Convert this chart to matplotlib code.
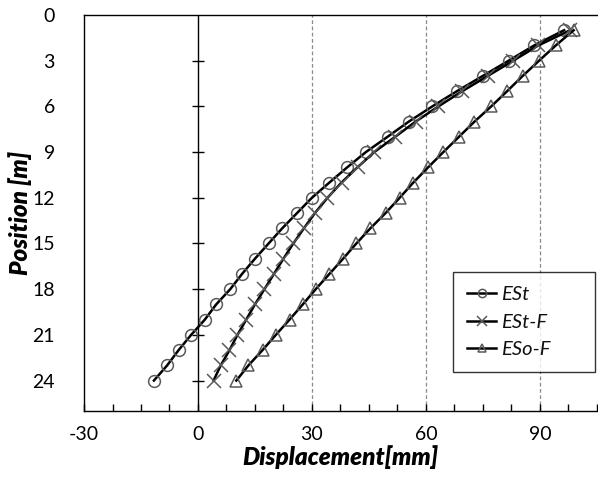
import numpy as np
import matplotlib
matplotlib.use("Agg")
import matplotlib.pyplot as plt
from matplotlib.ticker import MultipleLocator

plt.rcParams['font.family'] = ['Lato', 'DejaVu Sans']
plt.rcParams['axes.unicode_minus'] = False

# Depth positions (m) along the wall
position = list(range(1, 25))

# Horizontal displacement (mm) for each case
est = [96.4, 88.5, 81.8, 75.0, 68.2, 61.7, 55.5, 49.9, 44.2, 39.3, 34.6, 30.0,
       26.1, 22.2, 18.6, 15.0, 11.6, 8.5, 4.8, 1.8, -1.8, -5.1, -8.1, -11.6]
est_f = [98.0, 89.6, 83.0, 76.3, 69.6, 63.3, 57.3, 51.9, 46.4, 42.0, 37.8, 34.1,
         30.8, 27.9, 25.1, 22.5, 20.0, 17.5, 15.0, 12.7, 10.4, 8.3, 6.0, 4.1]
eso_f = [98.9, 94.2, 89.8, 85.5, 81.4, 77.2, 72.8, 68.7, 64.6, 60.6, 56.7, 53.1,
         49.4, 45.4, 41.7, 38.2, 34.6, 31.0, 27.6, 24.1, 20.5, 17.0, 13.3, 10.1]

series = [("ESt", est, "o", 8.5), ("ESt-F", est_f, "x", 9.5), ("ESo-F", eso_f, "^", 8.5)]

x_major = [-30, 0, 30, 60, 90]
y_major = list(range(0, 25, 3))

fig = plt.figure(figsize=(5.98, 4.83), dpi=100)
ax = fig.add_axes([0.1405, 0.149, 0.8575, 0.82])

for name, vals, mk, size in series:
    ax.plot(vals, position, color="black", lw=1.8, marker=mk, ms=size,
            mfc="none", mec="#5a5a5a", mew=1.1, label=name, zorder=3)

ax.set_xlim(-30, 105)
ax.set_ylim(26, 0)

# vertical gridlines at the major displacement values
for g in (30, 60, 90):
    ax.axvline(g, color="#8a8a8a", lw=0.9, ls=(0, (3, 2)), zorder=1)

# zero-displacement axis with its own position ticks
ax.axvline(0, color="black", lw=1.0, zorder=2)
ax.hlines(y_major[1:], -1.6, 1.6, color="black", lw=1.0, zorder=2)

ax.set_xticks(x_major)
ax.xaxis.set_minor_locator(MultipleLocator(7.5))
ax.tick_params(axis="x", which="both", direction="in", length=5, width=1,
               labelsize=14, pad=11)
ax.set_yticks(y_major)
ax.tick_params(axis="y", which="both", length=0, labelsize=14, pad=21)

for s in ax.spines.values():
    s.set_color("black")
    s.set_linewidth(1.0)
ax.spines["right"].set_visible(False)

ax.set_xlabel("Displacement[mm]", fontsize=17.5, fontweight="heavy",
              fontstyle="italic", labelpad=1)
ax.set_ylabel("Position [m]", fontsize=17.5, fontweight="heavy",
              fontstyle="italic", labelpad=0)

leg = ax.legend(loc="lower left", bbox_to_anchor=(0.719, 0.098, 0.277, 0.25),
                mode="expand", borderaxespad=0, frameon=True, fancybox=False,
                edgecolor="black", markerscale=0.7, handlelength=1.45,
                handletextpad=0.25, labelspacing=0.5, borderpad=0.72,
                prop={"style": "italic", "size": 14.5})
leg.get_frame().set_linewidth(1.0)
leg.get_frame().set_boxstyle("square", pad=0)
for t in leg.get_texts():
    t.set_color("#111111")

fig.savefig("out.png", dpi=100)
